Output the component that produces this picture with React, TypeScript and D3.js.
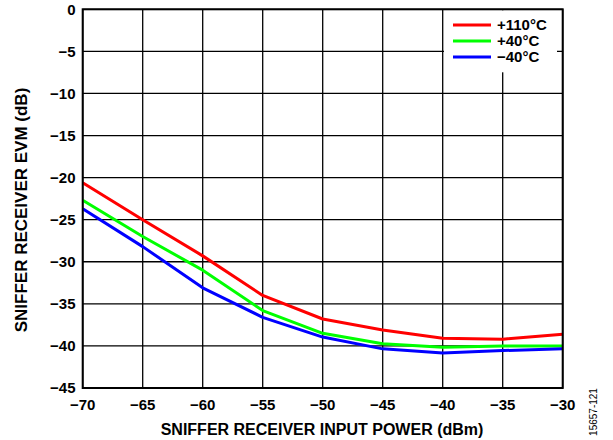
import React from "react";
import * as d3 from "d3";

const xTicks = [-70, -65, -60, -55, -50, -45, -40, -35, -30];
const yTicks = [0, -5, -10, -15, -20, -25, -30, -35, -40, -45];
const inputPower = [-70, -65, -60, -55, -50, -45, -40, -35, -30];
const evm110 = [-20.6, -25.0, -29.3, -34.0, -36.8, -38.1, -39.1, -39.2, -38.6];
const evm40 = [-22.7, -27.0, -31.0, -35.8, -38.5, -39.75, -40.15, -40.0, -40.0];
const evmMinus40 = [-23.7, -28.2, -33.1, -36.6, -38.95, -40.35, -40.85, -40.55, -40.35];
const seriesNames = ["+110°C", "+40°C", "−40°C"];
const seriesColors = ["#ff0000", "#00ff00", "#0000ff"];

export default function App() {
  const W = 613, H = 440;
  const L = 82.7, R = 562.7, T = 9.3, B = 388;
  const x = d3.scaleLinear().domain([-70, -30]).range([L, R]);
  const y = d3.scaleLinear().domain([0, -45]).range([T, B]);
  const series = [evm110, evm40, evmMinus40];
  const line = d3.line<number>().x((_, i) => x(inputPower[i])).y((d) => y(d));
  const font = "'Liberation Sans', Arial, sans-serif";
  return (
    <svg width={W} height={H} style={{ position: "absolute", left: 0, top: 0 }} fontFamily={font}>
      <rect width={W} height={H} fill="#fff" />
      {xTicks.map((t) => (
        <line key={"gx" + t} x1={x(t)} x2={x(t)} y1={T} y2={B} stroke="#000" strokeWidth={1.3} />
      ))}
      {yTicks.map((t) => (
        <line key={"gy" + t} x1={L} x2={R} y1={y(t)} y2={y(t)} stroke="#000" strokeWidth={1.3} />
      ))}
      <rect x={444} y={T + 1} width={113} height={62} fill="#fff" />
      {series.map((s, i) => (
        <path key={i} d={line(s) || ""} fill="none" stroke={seriesColors[i]} strokeWidth={3} strokeLinejoin="round" />
      ))}
      <rect x={L} y={T} width={R - L} height={B - T} fill="none" stroke="#000" strokeWidth={2} />
      {seriesNames.map((n, i) => (
        <g key={n}>
          <line x1={453} x2={491} y1={25 + i * 16} y2={25 + i * 16} stroke={seriesColors[i]} strokeWidth={3} />
          <text x={497} y={25 + i * 16} dy="0.36em" fontSize={15} fontWeight="bold">{n}</text>
        </g>
      ))}
      {yTicks.map((t) => (
        <text key={"ty" + t} x={75.5} y={y(t)} dy="0.36em" textAnchor="end" fontSize={15} fontWeight="bold">
          {t === 0 ? "0" : "−" + Math.abs(t)}
        </text>
      ))}
      {xTicks.map((t) => (
        <text key={"tx" + t} x={x(t)} y={410} textAnchor="middle" fontSize={15} fontWeight="bold">
          {"−" + Math.abs(t)}
        </text>
      ))}
      <text x={322} y={435} textAnchor="middle" fontSize={16} fontWeight="bold">
        SNIFFER RECEIVER INPUT POWER (dBm)
      </text>
      <text transform={`translate(27,210) rotate(-90)`} textAnchor="middle" fontSize={17} fontWeight="bold">
        SNIFFER RECEIVER EVM (dB)
      </text>
      <text transform={`translate(597,412) rotate(-90)`} textAnchor="middle" fontSize={10}>
        15657-121
      </text>
    </svg>
  );
}
